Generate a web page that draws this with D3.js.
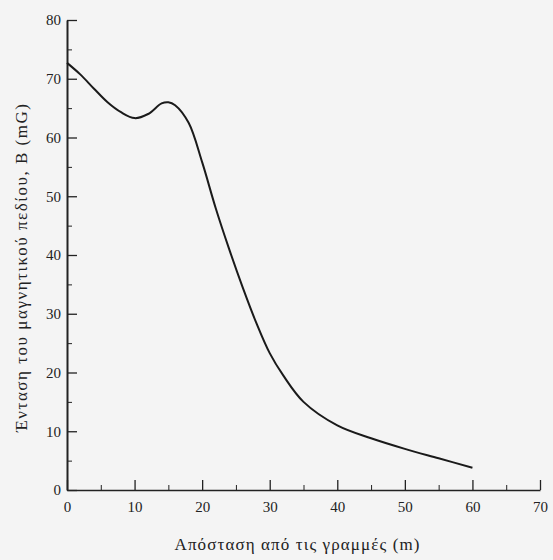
<!DOCTYPE html>
<meta charset="utf-8" />
<style>
  body { margin: 0; background: #f4f4f4; }
  text { font-family: "Liberation Serif", "DejaVu Serif", serif; fill: #222; }
  .domain, .tick line { stroke: #222; }
</style>
<body>
<script src="https://d3js.org/d3.v7.min.js"></script>
<script>
  // distance from the lines (m) and field strength (mG)
  var distance = [0, 2, 4, 6, 8, 10, 12, 14, 15, 16, 18, 20, 22, 24, 26, 28, 30, 32, 35, 40, 45, 50, 55, 60];
  var field = [72.7, 70.7, 68.3, 66, 64.3, 63.3, 64, 65.8, 66, 65.5, 62.5, 55.8, 48, 41, 34.5, 28.5, 23.3, 19.5, 15, 11, 8.8, 7, 5.4, 3.8];
  var xTicks = [0, 10, 20, 30, 40, 50, 60, 70];
  var yTicks = [0, 10, 20, 30, 40, 50, 60, 70, 80];
  var xLabel = "Απόσταση από τις γραμμές (m)";
  var yLabel = "Ένταση του μαγνητικού πεδίου, B (mG)";

  var W = 553, H = 560;
  var margin = { top: 20, right: 13, bottom: 70, left: 67 };

  var svg = d3.select("body").append("svg")
    .attr("width", W).attr("height", H);

  var x = d3.scaleLinear().domain([0, 70]).range([margin.left, W - margin.right]);
  var y = d3.scaleLinear().domain([0, 80]).range([H - margin.bottom, margin.top]);

  // minor ticks every 5
  var minorX = d3.range(5, 70, 10);
  var minorY = d3.range(5, 80, 10);

  svg.append("g")
    .attr("transform", "translate(0," + y(0) + ")")
    .call(d3.axisBottom(x).tickValues(minorX).tickSize(-5).tickFormat(""))
    .call(function(g) { g.select(".domain").remove(); });
  svg.append("g")
    .attr("transform", "translate(" + x(0) + ",0)")
    .call(d3.axisLeft(y).tickValues(minorY).tickSize(-5).tickFormat(""))
    .call(function(g) { g.select(".domain").remove(); });

  var xAxis = svg.append("g")
    .attr("transform", "translate(0," + y(0) + ")")
    .call(d3.axisBottom(x).tickValues(xTicks).tickSize(-10).tickSizeOuter(0).tickPadding(11));
  xAxis.select(".domain").attr("stroke-width", 1.5);
  xAxis.selectAll(".tick line").attr("stroke-width", 1.3);
  xAxis.selectAll("text").style("font-size", "15px");

  var yAxis = svg.append("g")
    .attr("transform", "translate(" + x(0) + ",0)")
    .call(d3.axisLeft(y).tickValues(yTicks).tickSize(-10).tickSizeOuter(0).tickPadding(6));
  yAxis.select(".domain").attr("stroke-width", 2);
  yAxis.selectAll(".tick line").attr("stroke-width", 1.3);
  yAxis.selectAll("text").style("font-size", "15px");

  var line = d3.line()
    .x(function(d, i) { return x(distance[i]); })
    .y(function(d) { return y(d); })
    .curve(d3.curveCatmullRom);

  svg.append("path")
    .datum(field)
    .attr("fill", "none")
    .attr("stroke", "#1a1a1a")
    .attr("stroke-width", 2)
    .attr("d", line);

  svg.append("text")
    .attr("x", 297).attr("y", 550)
    .attr("text-anchor", "middle")
    .attr("textLength", 245)
    .style("font-size", "17px")
    .text(xLabel);

  svg.append("text")
    .attr("transform", "translate(27," + 268 + ") rotate(-90)")
    .attr("text-anchor", "middle")
    .attr("textLength", 328)
    .style("font-size", "17px")
    .text(yLabel);
</script>
</body>
